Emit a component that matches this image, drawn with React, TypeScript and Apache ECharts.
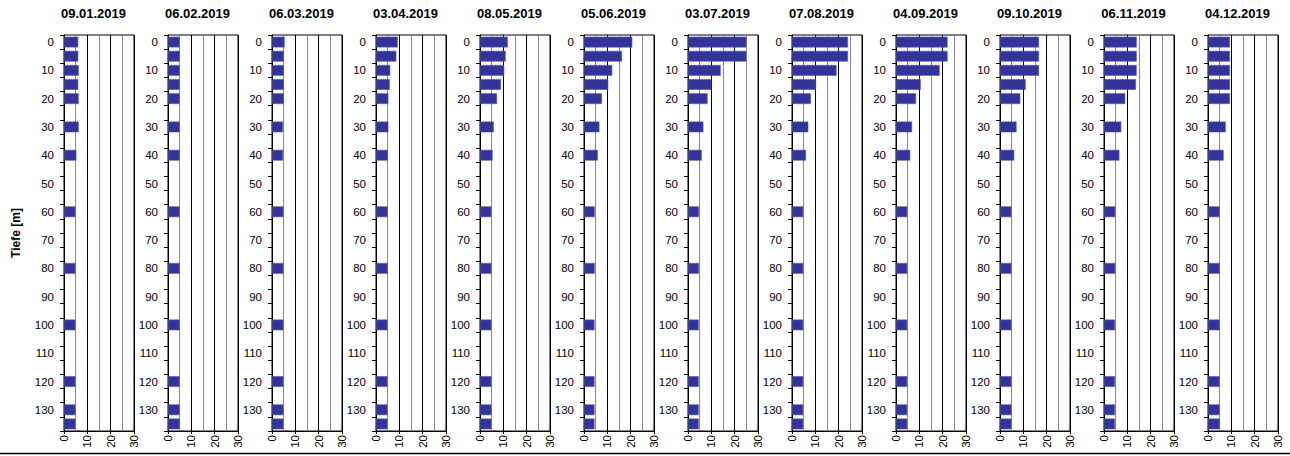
import React, { useEffect, useRef } from "react";
import * as echarts from "echarts";

const depthCategories = ["0","5","10","15","20","25","30","35","40","45","50","55","60","65","70","75","80","85","90","95","100","105","110","115","120","125","130","135"];
const measuredDepths = ["0","5","10","15","20","30","40","60","80","100","120","130","135"];
const dates = ["09.01.2019","06.02.2019","06.03.2019","03.04.2019","08.05.2019","05.06.2019","03.07.2019","07.08.2019","04.09.2019","09.10.2019","06.11.2019","04.12.2019"];

const v0901 = [6.1, 6.1, 6.3, 6.1, 6.3, 6.3, 5.3, 4.9, 4.9, 4.9, 4.9, 4.9, 4.9];
const v0602 = [5.0, 5.0, 5.0, 5.0, 5.0, 5.0, 5.0, 5.0, 5.0, 5.0, 5.0, 5.0, 5.0];
const v0603 = [5.4, 5.1, 5.1, 5.1, 5.1, 4.7, 4.7, 4.9, 4.9, 4.9, 4.9, 4.9, 4.9];
const v0304 = [9.3, 8.7, 6.1, 5.9, 5.3, 5.3, 5.1, 5.0, 5.0, 4.9, 4.9, 4.9, 4.9];
const v0805 = [11.9, 11.0, 10.4, 9.0, 7.3, 5.9, 5.4, 4.9, 4.9, 4.9, 4.9, 4.9, 4.9];
const v0506 = [20.7, 16.3, 12.1, 10.4, 7.7, 6.6, 5.9, 4.6, 4.6, 4.5, 4.5, 4.5, 4.5];
const v0307 = [25.0, 25.0, 14.0, 10.0, 8.4, 6.6, 5.9, 4.7, 4.7, 4.6, 4.6, 4.6, 4.6];
const v0708 = [24.0, 24.0, 19.1, 10.3, 8.1, 7.0, 6.0, 4.8, 4.8, 4.8, 4.8, 4.8, 4.8];
const v0409 = [22.1, 22.1, 18.7, 10.6, 8.6, 6.9, 6.1, 4.8, 4.8, 4.8, 4.8, 4.8, 4.8];
const v0910 = [16.7, 16.7, 16.7, 11.0, 8.7, 7.1, 6.1, 4.9, 4.9, 4.9, 4.9, 4.9, 4.9];
const v0611 = [14.0, 14.0, 14.0, 13.7, 9.1, 7.4, 6.6, 4.8, 4.8, 4.7, 4.7, 4.7, 4.7];
const v0412 = [9.4, 9.4, 9.4, 9.4, 9.4, 7.6, 6.7, 5.0, 5.0, 5.0, 5.0, 5.0, 5.0];

const seriesValues = [v0901, v0602, v0603, v0304, v0805, v0506, v0307, v0708, v0409, v0910, v0611, v0412];

const xTicks = [0, 10, 20, 30];

export default function App() {
  const ref = useRef<HTMLDivElement>(null);
  useEffect(() => {
    document.body.style.margin = "0";
    if (!ref.current) return;
    const chart = echarts.init(ref.current, null, { renderer: "svg" });
    const font = "'Liberation Sans', Arial, sans-serif";
    const left0 = 64;
    const step = 104;
    const w = 70;
    const top = 35;
    const h = 396;

    const grids: any[] = [];
    const xAxes: any[] = [];
    const yAxes: any[] = [];
    const series: any[] = [];
    const graphics: any[] = [];

    dates.forEach((d, i) => {
      const left = left0 + step * i;
      grids.push({ left, top, width: w, height: h, show: true, borderColor: "#000", borderWidth: 1, backgroundColor: "#fff" });
      xAxes.push({
        type: "value",
        gridIndex: i,
        min: xTicks[0],
        max: xTicks[xTicks.length - 1],
        interval: 10,
        axisLine: { show: true, lineStyle: { color: "#000", width: 1 } },
        axisTick: { show: true, length: 3, lineStyle: { color: "#000" } },
        axisLabel: { rotate: 90, fontSize: 11.5, color: "#000", fontFamily: font, margin: 4 },
        splitLine: { show: true, lineStyle: { color: "#000", width: 1 } },
        minorTick: { show: false, splitNumber: 2 },
        minorSplitLine: { show: true, lineStyle: { color: "#888", width: 1 } },
      });
      yAxes.push({
        type: "category",
        gridIndex: i,
        inverse: true,
        data: depthCategories,
        axisLine: { show: true, lineStyle: { color: "#000", width: 1 } },
        axisTick: { show: true, interval: 0, length: 4, lineStyle: { color: "#000" } },
        axisLabel: { interval: 1, fontSize: 11.5, color: "#000", fontFamily: font, margin: 10 },
        splitLine: { show: false },
      });
      const vals = seriesValues[i];
      series.push({
        type: "bar",
        name: d,
        xAxisIndex: i,
        yAxisIndex: i,
        barCategoryGap: "24%",
        itemStyle: { color: "#333399", borderColor: "#5555bb", borderWidth: 0.6 },
        data: depthCategories.map((c) => {
          const k = measuredDepths.indexOf(c);
          return k >= 0 ? vals[k] : null;
        }),
      });
      graphics.push({
        type: "text",
        x: left + w / 2 - 5.5,
        y: 13,
        style: { text: d, font: `bold 13px ${font}`, fill: "#000", align: "center", verticalAlign: "middle" },
      });
    });

    graphics.push({
      type: "text",
      x: 16,
      y: 233,
      rotation: Math.PI / 2,
      style: { text: "Tiefe [m]", font: `bold 12px ${font}`, fill: "#000", align: "center", verticalAlign: "middle" },
    });
    graphics.push({
      type: "line",
      shape: { x1: 0, y1: 453.5, x2: 1290, y2: 453.5 },
      style: { stroke: "#000", lineWidth: 1.5 },
    });

    chart.setOption({
      animation: false,
      backgroundColor: "#fff",
      grid: grids,
      xAxis: xAxes,
      yAxis: yAxes,
      series,
      graphic: graphics,
    });
    return () => chart.dispose();
  }, []);
  return <div ref={ref} style={{ width: 1290, height: 456 }} />;
}
